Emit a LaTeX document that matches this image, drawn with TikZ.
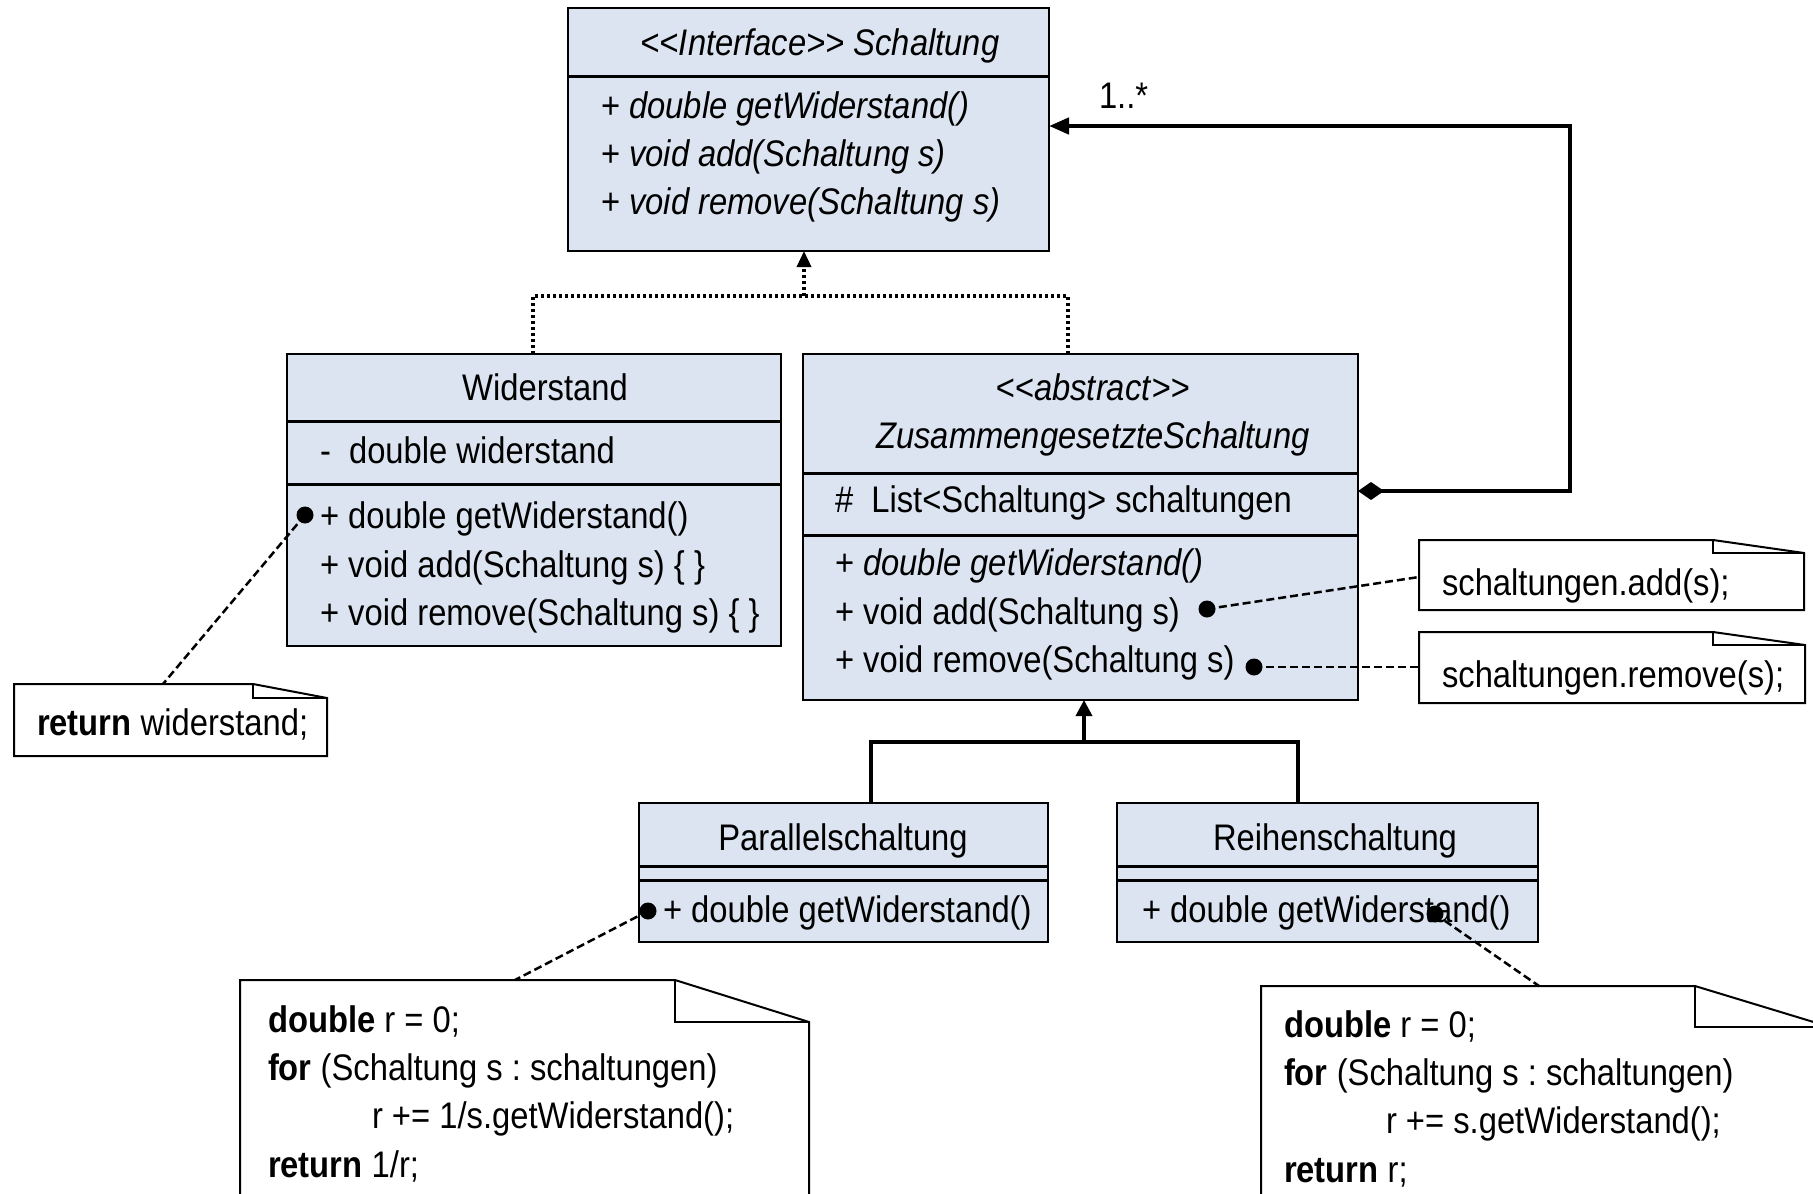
\documentclass[tikz,border=0pt]{standalone}
\usepackage{fontspec}
\setmainfont{Liberation Sans}[FakeStretch=0.885]
\usetikzlibrary{arrows.meta}
\definecolor{boxfill}{RGB}{219,228,240}
\frenchspacing
\newcommand{\dlt}{<\kern0pt<}
\newcommand{\dgt}{>\kern0pt>}
\newcommand{\umlnote}[3]{%
  \draw[noteline] (#1.north west) -- ([xshift=-#2]#1.north east) -- ([yshift=-#3]#1.north east) -- (#1.south east) -- (#1.south west) -- cycle;
  \draw[noteline] ([xshift=-#2]#1.north east) -- ([xshift=-#2,yshift=-#3]#1.north east) -- ([yshift=-#3]#1.north east);}
\tikzset{
  cls/.style={draw=black, line width=2.5pt, fill=boxfill, inner sep=0pt, outer sep=0pt, anchor=north west},
  notebox/.style={inner sep=0pt, outer sep=0pt, anchor=north west},
  sepline/.style={line width=3pt},
  txt/.style={inner sep=0pt, outer sep=0pt, anchor=base west},
  ctxt/.style={inner sep=0pt, outer sep=0pt, anchor=base},
  dotn/.style={circle, fill=black, inner sep=0pt, minimum size=17pt},
  notelink/.style={line width=2.5pt, dash pattern=on 8pt off 4pt},
  noteline/.style={line width=2pt},
  realize/.style={line width=3.5pt, dash pattern=on 3pt off 3pt},
  genline/.style={line width=3.5pt},
  compline/.style={line width=4.5pt},
}
\begin{document}
\frenchspacing
\begin{tikzpicture}[x=1pt,y=-1pt,font=\fontsize{37pt}{47pt}\selectfont\frenchspacing]
\useasboundingbox (0,0) rectangle (1813,1194);
\clip (0,0) rectangle (1813,1194);

% ---------- class boxes ----------
\node[cls, minimum width=481pt, minimum height=243pt] (iface) at (568,8) {};
\draw[sepline] (iface.west |- 0,76) -- (iface.east |- 0,76);
\node[ctxt] (ifT) at (820,55) {\textit{\dlt Interface\dgt{} Schaltung}};
\node[txt] (if1) at (601,118) {+ \textit{double getWiderstand()}};
\node[txt] (if2) at (601,166) {+ \textit{void add(Schaltung s)}};
\node[txt] (if3) at (601,214) {+ \textit{void remove(Schaltung s)}};

\node[cls, minimum width=494pt, minimum height=292pt] (wid) at (287,354) {};
\draw[sepline] (wid.west |- 0,421) -- (wid.east |- 0,421);
\draw[sepline] (wid.west |- 0,484) -- (wid.east |- 0,484);
\node[ctxt] (wT) at (545,400) {Widerstand};
\node[txt] (wA) at (320,463) {-\ \ double widerstand};
\node[txt] (wM1) at (320,528) {+ double getWiderstand()};
\node[txt] (wM2) at (320,577) {+ void add(Schaltung s) \{ \}};
\node[txt] (wM3) at (320,625) {+ void remove(Schaltung s) \{ \}};

\node[cls, minimum width=555pt, minimum height=346pt] (zus) at (803,354) {};
\draw[sepline] (zus.west |- 0,473) -- (zus.east |- 0,473);
\draw[sepline] (zus.west |- 0,535) -- (zus.east |- 0,535);
\node[ctxt] (zT1) at (1093,400) {\dlt\textit{abstract}\dgt};
\node[ctxt] (zT2) at (1093,448) {\textit{ZusammengesetzteSchaltung}};
\node[txt] (zA) at (835,512) {\#\ \ List<Schaltung> schaltungen};
\node[txt] (zM1) at (835,575) {+ \textit{double getWiderstand()}};
\node[txt] (zM2) at (835,624) {+ void add(Schaltung s)};
\node[txt] (zM3) at (835,672) {+ void remove(Schaltung s)};

\node[cls, minimum width=409pt, minimum height=139pt] (par) at (639,803) {};
\draw[sepline] (par.west |- 0,866) -- (par.east |- 0,866);
\draw[sepline] (par.west |- 0,880) -- (par.east |- 0,880);
\node[ctxt] (pT) at (843,850) {Parallelschaltung};
\node[txt] (pM) at (663,922) {+ double getWiderstand()};

\node[cls, minimum width=421pt, minimum height=139pt] (rei) at (1117,803) {};
\draw[sepline] (rei.west |- 0,866) -- (rei.east |- 0,866);
\draw[sepline] (rei.west |- 0,880) -- (rei.east |- 0,880);
\node[ctxt] (rT) at (1335,850) {Reihenschaltung};
\node[txt] (rM) at (1142,922) {+ double getWiderstand()};

% ---------- notes ----------
\node[notebox, minimum width=313pt, minimum height=72pt] (retnote) at (14,684) {};
\umlnote{retnote}{74pt}{14pt}
\node[txt] (retT) at (37,735) {\textbf{return} widerstand;};

\node[notebox, minimum width=385pt, minimum height=70pt] (addnote) at (1419,540) {};
\umlnote{addnote}{91pt}{13pt}
\node[txt] (addT) at (1442,595) {schaltungen.add(s);};

\node[notebox, minimum width=386pt, minimum height=71pt] (remnote) at (1419,632) {};
\umlnote{remnote}{92pt}{13pt}
\node[txt] (remT) at (1442,687) {schaltungen.remove(s);};

\node[notebox, minimum width=569pt, minimum height=260pt] (parnote) at (240,980) {};
\umlnote{parnote}{134pt}{42pt}
\node[txt] (pn1) at (268,1032) {\textbf{double} r = 0;};
\node[txt] (pn2) at (268,1080) {\textbf{for} (Schaltung s : schaltungen)};
\node[txt] (pn3) at (372,1128) {r += 1/s.getWiderstand();};
\node[txt] (pn4) at (268,1177) {\textbf{return} 1/r;};

\node[notebox, minimum width=569pt, minimum height=260pt] (reinote) at (1261,986) {};
\umlnote{reinote}{135pt}{41pt}
\node[txt] (rn1) at (1284,1037) {\textbf{double} r = 0;};
\node[txt] (rn2) at (1284,1085) {\textbf{for} (Schaltung s : schaltungen)};
\node[txt] (rn3) at (1386,1133) {r += s.getWiderstand();};
\node[txt] (rn4) at (1284,1182) {\textbf{return} r;};

% ---------- dots and note links ----------
\node[dotn] (dW) at (305,515) {};
\node[dotn] (dA) at (1207,609) {};
\node[dotn] (dR) at (1254,667) {};
\node[dotn] (dP) at (648,911) {};
\node[dotn] (dRe) at (1435,914) {};

\coordinate (retc) at (163,684);
\coordinate (addc) at (1419,577);
\coordinate (parc) at (515,980);
\coordinate (reic) at (1539,986);
\draw[notelink] (dW.center) -- (retc);
\draw[notelink] (dA.center) -- (addc);
\draw[notelink] (dR.center) -- (dR.center -| remnote.west);
\draw[notelink] (dP.center) -- (parc);
\draw[notelink] (dRe.center) -- (reic);

% ---------- realization (dotted) ----------
\coordinate (rj) at (804,296);
\coordinate (rl) at (533,296);
\coordinate (rr) at (1068,296);
\draw[realize] (rl |- wid.north) -- (rl) -- (rr) -- (rr |- zus.north);
\draw[realize, -{Triangle[length=16pt,width=14pt]}] (rj) -- (rj |- iface.south);

% ---------- generalization ----------
\coordinate (gj) at (1084,742);
\coordinate (gl) at (871,742);
\coordinate (gr) at (1298,742);
\draw[genline] (gl |- par.north) -- (gl) -- (gr) -- (gr |- rei.north);
\draw[genline, -{Triangle[length=16pt,width=16pt]}] (gj) -- (gj |- zus.south);

% ---------- composition ----------
\coordinate (cc1) at (1570,491);
\coordinate (cc2) at (1570,126);
\draw[compline, {Diamond[length=26pt,width=18pt]}-{Triangle[length=20pt,width=16pt]}]
  (zus.east |- cc1) -- (cc1) -- (cc2) -- (cc2 -| iface.east);
\node[txt] (mult) at (1099,108) {1..*};
\end{tikzpicture}
\end{document}
